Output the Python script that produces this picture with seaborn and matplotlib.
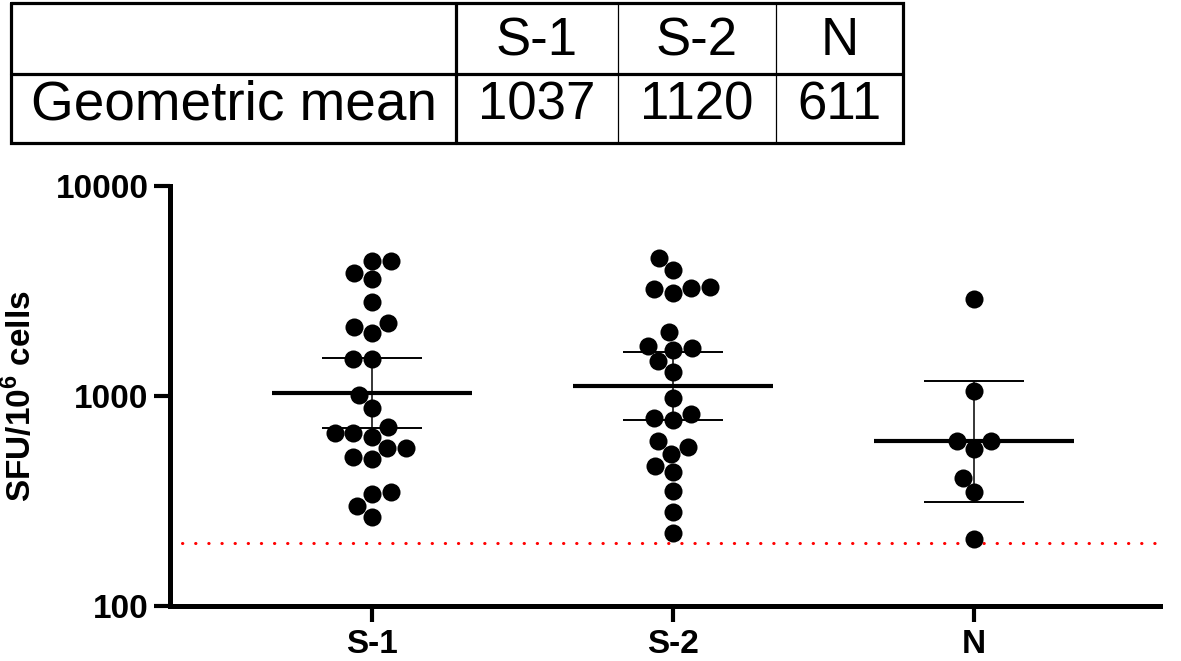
import numpy as np
import pandas as pd
import matplotlib
matplotlib.use("Agg")
import matplotlib.pyplot as plt
from matplotlib.ticker import NullLocator
import seaborn as sns

# ---------------- data ----------------
groups = ["S-1", "S-2", "N"]
s1_values = [4406, 3837, 4406, 3606, 2793, 2138, 2001, 2219, 1500, 1500, 1011, 874,
             714, 668, 640, 668, 564, 514, 564, 500, 348, 341, 299, 266]
s2_values = [4557, 3981, 3084, 3223, 3294, 3268, 2011, 1687, 1656, 1736, 1468, 1305,
             976, 769, 783, 818, 611, 574, 527, 466, 433, 354, 281, 222]
n_values = [2897, 1060, 611, 611, 557, 408, 348, 208]
geo_mean = [1037, 1120, 611]
ci_low = [706, 769, 314]
ci_high = [1511, 1626, 1183]
cutoff = 200
y_ticks = [100, 1000, 10000]
y_tick_labels = ["100", "1000", "10000"]
y_label = r"SFU/10$^{\mathbf{6}}$ cells"
table_row_label = "Geometric mean"

df = pd.DataFrame({
    "group": ["S-1"] * len(s1_values) + ["S-2"] * len(s2_values) + ["N"] * len(n_values),
    "value": s1_values + s2_values + n_values,
})

# ---------------- style ----------------
sns.set_style("white")
plt.rcParams["font.family"] = ["Liberation Sans", "DejaVu Sans"]
plt.rcParams["mathtext.fontset"] = "custom"
plt.rcParams["mathtext.rm"] = "Liberation Sans"
plt.rcParams["mathtext.bf"] = "Liberation Sans:bold"

W, H = 1181, 661
fig = plt.figure(figsize=(W / 100, H / 100), dpi=100)
ax = fig.add_axes([170 / W, 1 - 606 / H, 990 / W, 420 / H])

ax.set_yscale("log")
ax.set_ylim(100, 10000)
ax.set_xlim(-0.671, 2.618)

sns.swarmplot(data=df, x="group", y="value", order=groups, color="black",
              size=13, linewidth=0, ax=ax, zorder=3)
ax.set_xlim(-0.671, 2.618)
ax.set_ylim(100, 10000)

xpos = np.arange(len(groups))
gm = np.array(geo_mean)
ax.hlines(gm, xpos - 0.332, xpos + 0.332, color="black", lw=3.0, zorder=2)
ax.errorbar(xpos, gm, yerr=[gm - np.array(ci_low), np.array(ci_high) - gm],
            fmt="none", ecolor="black", elinewidth=1.1, capsize=36, capthick=1.4, zorder=2)

ax.axhline(cutoff, xmin=0.012, xmax=1.0, color="red", lw=2.2,
           linestyle=(0, (0.1, 4.2)), dash_capstyle="round", zorder=1)

# axes styling
for s in ["top", "right"]:
    ax.spines[s].set_visible(False)
for s in ["left", "bottom"]:
    ax.spines[s].set_linewidth(3.6)
    ax.spines[s].set_color("black")
    ax.spines[s].set_capstyle("projecting")

ax.yaxis.set_minor_locator(NullLocator())
ax.set_yticks(y_ticks)
ax.set_yticklabels(y_tick_labels)
ax.tick_params(axis="both", which="major", length=11.5, width=3.0, color="black",
               direction="out", labelsize=24, labelcolor="black",
               bottom=True, left=True)
ax.tick_params(axis="y", pad=4)
ax.tick_params(axis="x", pad=5)
for lab in ax.get_xticklabels() + ax.get_yticklabels():
    lab.set_fontweight("bold")

ax.set_xlabel("")
ax.set_ylabel(y_label, fontsize=24, fontweight="bold", color="black")
ax.yaxis.set_label_coords(-0.133, 0.5)

# ---------------- table ----------------
tax = fig.add_axes([0, 0, 1, 1], zorder=-1)
tax.set_xlim(0, W)
tax.set_ylim(H, 0)
tax.axis("off")

left, right, top, bottom, mid = 11, 903, 3, 143, 74
col_edges = [456, 618, 776]
thick, thin = 2.3, 0.9
tax.plot([left, right, right, left, left], [top, top, bottom, bottom, top],
         color="black", lw=thick, solid_joinstyle="miter")
tax.plot([left, right], [mid, mid], color="black", lw=thick)
tax.plot([col_edges[0]] * 2, [top, bottom], color="black", lw=thick)
for cx in col_edges[1:]:
    tax.plot([cx, cx], [top, bottom], color="black", lw=thin)

centers = [(col_edges[0] + col_edges[1]) / 2, (col_edges[1] + col_edges[2]) / 2,
           (col_edges[2] + right) / 2]
for c, g, m in zip(centers, groups, geo_mean):
    tax.text(c, 41, g, ha="center", va="center", fontsize=38, color="black")
    tax.text(c, 106, str(m), ha="center", va="center", fontsize=38, color="black")
tax.text(31, 106, table_row_label, ha="left", va="center", fontsize=39.5, color="black")

fig.savefig("out.png", dpi=100)
